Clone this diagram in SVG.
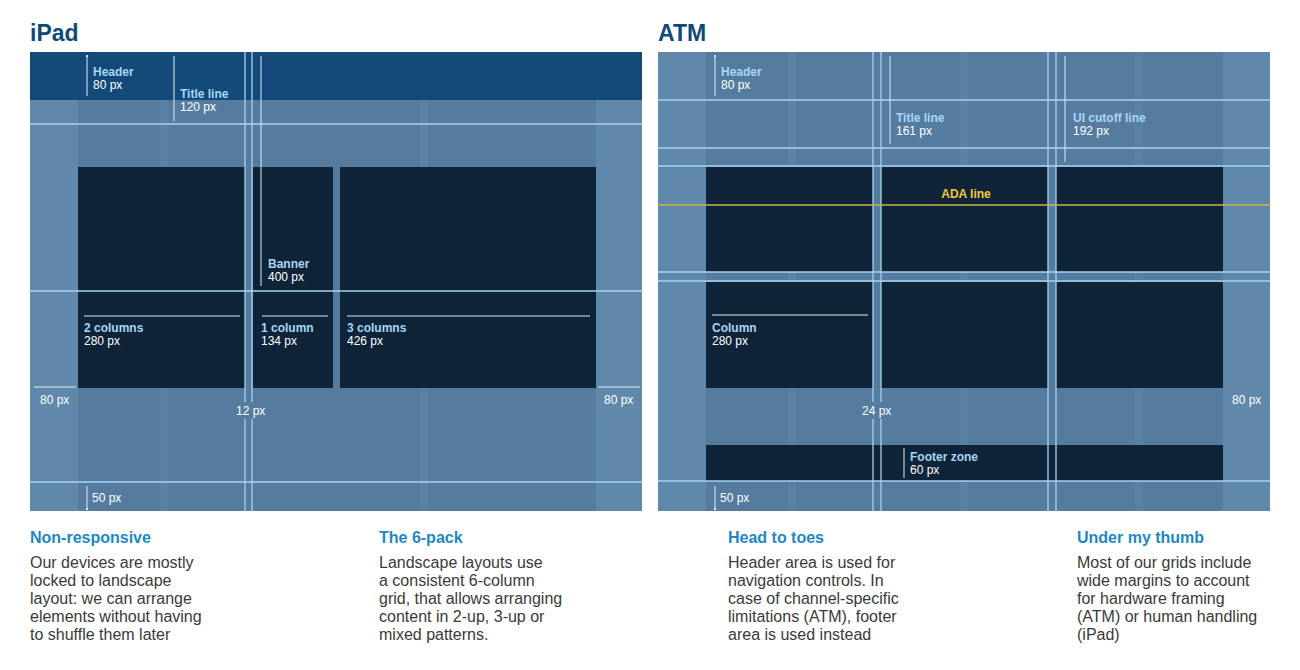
<svg xmlns="http://www.w3.org/2000/svg" width="1300" height="670" viewBox="0 0 1300 670">
<defs>
<style>
.bg{fill:#557c9f}.mg{fill:#5f88aa}.dk{fill:#0f2439}.st{fill:#5a82a4}
.gl{stroke:#a6d2ef;stroke-width:1.3;fill:none}
.ar{stroke:#dfeaf3;stroke-width:1;fill:none;marker-start:url(#a);marker-end:url(#a)}
text{font-family:"Liberation Sans",Arial,sans-serif}
.lb{font-size:12px;font-weight:bold;fill:#a9d6f5}
.v{font-size:12px;fill:#ffffff}
.t{font-size:23px;font-weight:bold;fill:#0d4a79}
.h{font-size:16px;font-weight:bold;fill:#1d88c2}
.p{font-size:16px;fill:#3a3a3a}
</style>
<marker id="a" viewBox="0 0 4 4" refX="2" refY="2" markerWidth="3" markerHeight="3"><circle cx="2" cy="2" r="1.5" fill="#dfeaf3"/></marker>
</defs>
<rect width="1300" height="670" fill="#fff"/>
<text class="t" x="30" y="41">iPad</text>
<text class="t" x="658" y="41">ATM</text>
<g id="ipad">
<rect class="bg" x="30" y="52" width="612" height="459"/>
<rect class="mg" x="30" y="52" width="48" height="459"/>
<rect class="mg" x="596" y="52" width="46" height="459"/>
<rect class="st" x="160" y="52" width="8" height="459"/>
<rect class="st" x="420" y="52" width="8" height="459"/>
<rect fill="#134a7a" x="30" y="52" width="612" height="48"/>
<rect class="dk" x="78" y="167" width="167" height="221"/>
<rect class="dk" x="253" y="167" width="80" height="221"/>
<rect class="dk" x="340" y="167" width="256" height="221"/>
<path class="gl" d="M30 124H642M30 291H642M30 482H642M245 52V511M252 52V511"/>
<path class="ar" d="M87 56V96M174 56V121M261 56V286M84 316H240M262 316H328M347 316H590M34 387H76M598 387H640M87 486V509"/>
<text class="lb" x="93" y="76">Header</text><text class="v" x="93" y="89">80 px</text>
<text class="lb" x="180" y="98">Title line</text><text class="v" x="180" y="111">120 px</text>
<text class="lb" x="268" y="268">Banner</text><text class="v" x="268" y="281">400 px</text>
<text class="lb" x="84" y="332">2 columns</text><text class="v" x="84" y="345">280 px</text>
<text class="lb" x="261" y="332">1 column</text><text class="v" x="261" y="345">134 px</text>
<text class="lb" x="347" y="332">3 columns</text><text class="v" x="347" y="345">426 px</text>
<text class="v" x="40" y="404">80 px</text>
<text class="v" x="604" y="404">80 px</text>
<rect class="bg" x="236" y="402" width="28" height="17"/>
<text class="v" x="236" y="415">12 px</text>
<text class="v" x="92" y="502">50 px</text>
</g>
<g id="atm">
<rect class="bg" x="658" y="52" width="612" height="459"/>
<rect class="mg" x="658" y="52" width="48" height="459"/>
<rect class="mg" x="1223" y="52" width="47" height="459"/>
<rect class="st" x="788" y="52" width="8" height="459"/>
<rect class="st" x="960" y="52" width="8" height="459"/>
<rect class="st" x="1135" y="52" width="8" height="459"/>
<rect class="dk" x="706" y="167" width="167" height="105"/>
<rect class="dk" x="881" y="167" width="167" height="105"/>
<rect class="dk" x="1056" y="167" width="167" height="105"/>
<rect class="dk" x="706" y="282" width="167" height="106"/>
<rect class="dk" x="881" y="282" width="167" height="106"/>
<rect class="dk" x="1056" y="282" width="167" height="106"/>
<rect class="dk" x="706" y="445" width="517" height="36"/>
<path class="gl" d="M658 100H1270M658 148H1270M658 166H1270M658 272H1270M658 281H1270M658 481H1270M873 52V511M881 52V511M1048 52V511M1056 52V511"/>
<path stroke="#c9b443" stroke-width="1.5" d="M658 205H1270"/>
<path class="ar" d="M715 56V96M890 56V144M1065 56V162M712 315H868M904 448V478M715 486V509"/>
<text class="lb" x="721" y="76">Header</text><text class="v" x="721" y="89">80 px</text>
<text class="lb" x="896" y="122">Title line</text><text class="v" x="896" y="135">161 px</text>
<text class="lb" x="1073" y="122">UI cutoff line</text><text class="v" x="1073" y="135">192 px</text>
<text x="966" y="198" text-anchor="middle" style="font-size:12px;font-weight:bold;fill:#f2c83a">ADA line</text>
<text class="lb" x="712" y="332">Column</text><text class="v" x="712" y="345">280 px</text>
<rect class="bg" x="862" y="402" width="30" height="17"/>
<text class="v" x="862" y="415">24 px</text>
<text class="v" x="1232" y="404">80 px</text>
<text class="lb" x="910" y="461">Footer zone</text><text class="v" x="910" y="474">60 px</text>
<text class="v" x="720" y="502">50 px</text>
</g>
<g id="texts">
<text class="h" x="30" y="543">Non-responsive</text>
<text class="p"><tspan x="30" y="568">Our devices are mostly</tspan><tspan x="30" y="586">locked to landscape</tspan><tspan x="30" y="604">layout: we can arrange</tspan><tspan x="30" y="622">elements without having</tspan><tspan x="30" y="640">to shuffle them later</tspan></text>
<text class="h" x="379" y="543">The 6-pack</text>
<text class="p"><tspan x="379" y="568">Landscape layouts use</tspan><tspan x="379" y="586">a consistent 6-column</tspan><tspan x="379" y="604">grid, that allows arranging</tspan><tspan x="379" y="622">content in 2-up, 3-up or</tspan><tspan x="379" y="640">mixed patterns.</tspan></text>
<text class="h" x="728" y="543">Head to toes</text>
<text class="p"><tspan x="728" y="568">Header area is used for</tspan><tspan x="728" y="586">navigation controls. In</tspan><tspan x="728" y="604">case of channel-specific</tspan><tspan x="728" y="622">limitations (ATM), footer</tspan><tspan x="728" y="640">area is used instead</tspan></text>
<text class="h" x="1077" y="543">Under my thumb</text>
<text class="p"><tspan x="1077" y="568">Most of our grids include</tspan><tspan x="1077" y="586">wide margins to account</tspan><tspan x="1077" y="604">for hardware framing</tspan><tspan x="1077" y="622">(ATM) or human handling</tspan><tspan x="1077" y="640">(iPad)</tspan></text>
</g>
</svg>
